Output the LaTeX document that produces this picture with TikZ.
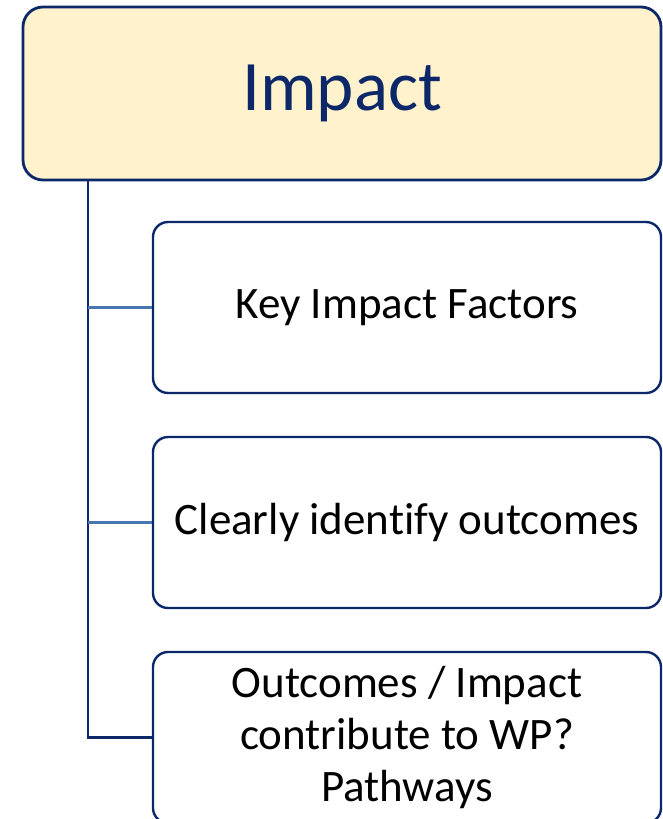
\documentclass[tikz,border=0pt]{standalone}
\usepackage{fontspec}
\setmainfont[Ligatures=NoCommon]{Carlito}
\definecolor{navy}{RGB}{12,40,104}
\definecolor{lightyellow}{RGB}{255,242,204}
\definecolor{branchblue}{RGB}{72,118,178}
\tikzset{
  topbox/.style={draw=navy,line width=2.8pt,fill=lightyellow,rounded corners=20pt,
    minimum width=638pt,minimum height=173pt,text=navy,font=\fontsize{71}{85}\selectfont},
  subbox/.style={draw=navy,line width=2.4pt,fill=white,rounded corners=15pt,
    minimum width=508pt,minimum height=171pt,align=center,font=\fontsize{45}{52}\selectfont},
  branch/.style={draw=branchblue,line width=2.4pt}
}
\begin{document}
\begin{tikzpicture}[x=1pt,y=-1pt]
            \useasboundingbox (0,0) rectangle (662,819);
            \node[topbox] (impact) at (342,93.5) {Impact};
            \coordinate (trunk) at (88,180);
            \node[subbox] (factors) at (407,307.5) {Key Impact Factors};
            \node[subbox] (outcomes) at (407,522.5) {Clearly identify outcomes};
            \node[subbox] (pathways) at (407,737.5) {Outcomes / Impact\\contribute to WP?\\Pathways};
            \draw[navy,line width=2.4pt] (trunk) |- (pathways.west);
            \draw[branch] (trunk |- factors.west) -- (factors.west);
            \draw[branch] (trunk |- outcomes.west) -- (outcomes.west);
            \end{tikzpicture}
\end{document}
